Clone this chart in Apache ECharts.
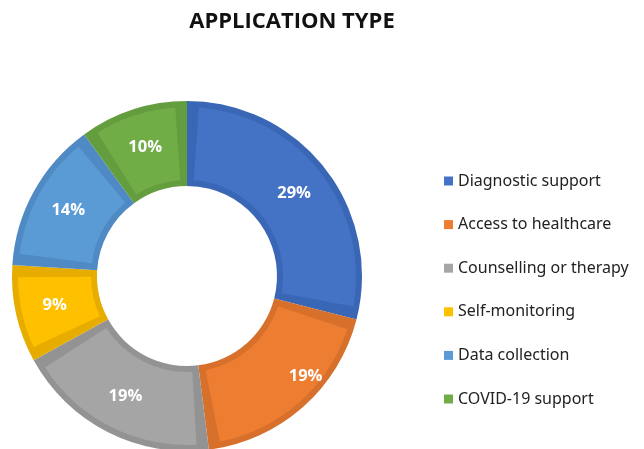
<!DOCTYPE html>
<html>
<head>
<meta charset="utf-8">
<script src="https://cdn.jsdelivr.net/npm/echarts@6/dist/echarts.min.js"></script>
<style>
  html, body { margin: 0; padding: 0; background: #fff; }
  #chart { width: 644px; height: 449px; }
</style>
</head>
<body>
<div id="chart"></div>
<script>
var categories = ['Diagnostic support', 'Access to healthcare', 'Counselling or therapy', 'Self-monitoring', 'Data collection', 'COVID-19 support'];
var shares = [29, 19, 19, 9, 14, 10];
var fillColors = ['#4472C4', '#ED7D31', '#A5A5A5', '#FFC000', '#5B9BD5', '#70AD47'];
var edgeColors = ['#3A66B6', '#D6702B', '#939393', '#E6AD00', '#4F8AC4', '#639D3E'];

var center = [187, 276];

// light inner pieces (labels live here)
var fillData = categories.map(function (name, i) {
    var item = { name: name, value: shares[i], itemStyle: { color: fillColors[i] } };
    if (i === 1) item.label = { offset: [29, -1] };
    return item;
});
// darker full pieces behind them give the bevel edge
var edgeData = categories.map(function (name, i) {
    return { name: name, value: shares[i], itemStyle: { color: edgeColors[i] } };
});

var chart = echarts.init(document.getElementById('chart'));
chart.setOption({
    animation: false,
    title: {
        text: 'APPLICATION TYPE',
        left: 292,
        textAlign: 'center',
        top: 11,
        padding: 0,
        textStyle: { fontFamily: 'Open Sans', fontWeight: 'bold', fontSize: 22, color: '#111' }
    },
    legend: {
        orient: 'vertical',
        left: 444,
        top: 173,
        padding: 0,
        itemWidth: 9,
        itemHeight: 9,
        itemGap: 27.6,
        icon: 'rect',
        data: categories,
        textStyle: { fontFamily: 'Noto Sans', fontSize: 16, color: '#222' }
    },
    series: [
        {
            type: 'pie',
            z: 3,
            center: center,
            radius: [96, 169],
            startAngle: 90,
            clockwise: true,
            padAngle: 8,
            itemStyle: { borderWidth: 0, borderRadius: 0 },
            label: {
                show: true,
                position: 'inside',
                formatter: '{c}%',
                color: '#fff',
                fontFamily: 'Open Sans',
                fontWeight: 'bold',
                fontSize: 16.5
            },
            labelLine: { show: false },
            emphasis: { disabled: true },
            data: fillData
        },
        {
            type: 'pie',
            z: 2,
            center: center,
            radius: [90, 175],
            startAngle: 90,
            clockwise: true,
            itemStyle: { borderWidth: 0, borderRadius: 0 },
            label: { show: false },
            labelLine: { show: false },
            emphasis: { disabled: true },
            data: edgeData
        }
    ]
});
</script>
</body>
</html>
